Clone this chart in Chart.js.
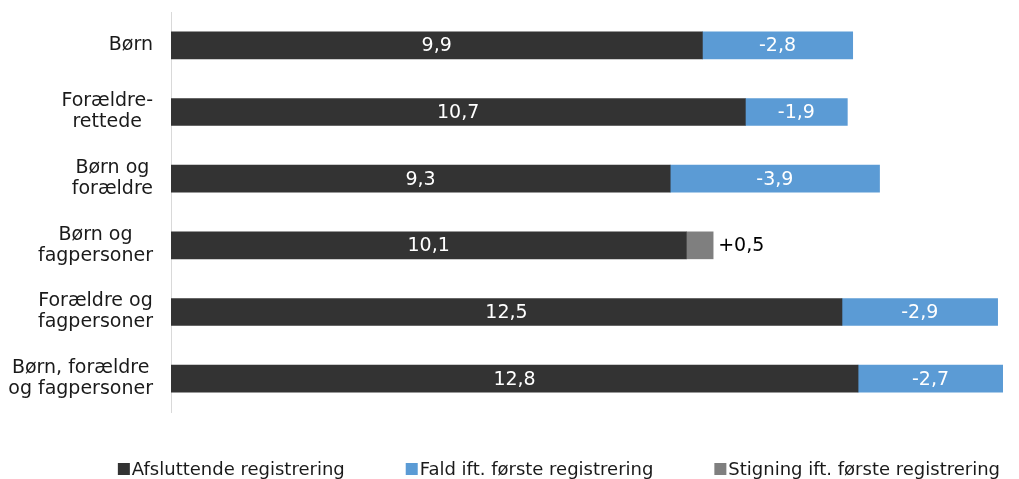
<!DOCTYPE html>
<html lang="da">
<head>
    <meta charset="UTF-8">
    <title>Registreringer</title>
    <script src="https://cdn.jsdelivr.net/npm/chart.js"></script>
    <style>
        body {
            margin: 0;
            padding: 0;
            background: #ffffff;
        }
        .chart-box {
            width: 1019px;
            height: 479px;
        }
    </style>
</head>
<body>
    <div class="chart-box">
        <canvas id="chart"></canvas>
    </div>

    <script>
        const groups = [
            ['Børn'],
            ['Forældre-', 'rettede'],
            ['Børn og', 'forældre'],
            ['Børn og', 'fagpersoner'],
            ['Forældre og', 'fagpersoner'],
            ['Børn, forældre', 'og fagpersoner']
        ];
        // final registration value and change since the first registration
        const finalValues = [9.9, 10.7, 9.3, 10.1, 12.5, 12.8];
        const changes = [-2.8, -1.9, -3.9, 0.5, -2.9, -2.7];

        const seriesNames = ['Afsluttende registrering', 'Fald ift. første registrering', 'Stigning ift. første registrering'];
        const colors = ['#333333', '#5b9bd5', '#7f7f7f'];

        // a rise is drawn on top of the first value, a fall on top of the final value
        const baseData = finalValues.map((v, i) => +(v - Math.max(changes[i], 0)).toFixed(1));
        const fallData = changes.map(c => c < 0 ? -c : null);
        const riseData = changes.map(c => c > 0 ? c : null);

        const FONT = '19px "DejaVu Sans"';
        const LEGEND_FONT = '18px "DejaVu Sans"';
        const TEXT = '#1a1a1a';

        function fmt(v) {
            return v.toFixed(1).replace('.', ',');
        }

        // values inside the bars, the rise value just right of its bar
        const barLabels = {
            id: 'barLabels',
            afterDatasetsDraw(chart) {
                const ctx = chart.ctx;
                ctx.save();
                ctx.font = FONT;
                ctx.textBaseline = 'middle';
                chart.data.datasets.forEach((ds, di) => {
                    const meta = chart.getDatasetMeta(di);
                    meta.data.forEach((bar, i) => {
                        if (ds.data[i] == null) return;
                        const mid = (bar.base + bar.x) / 2;
                        if (di === 0) {
                            ctx.fillStyle = '#ffffff';
                            ctx.textAlign = 'center';
                            ctx.fillText(fmt(finalValues[i]), mid, bar.y + 1);
                        } else if (di === 1) {
                            ctx.fillStyle = '#ffffff';
                            ctx.textAlign = 'center';
                            ctx.fillText(fmt(changes[i]), mid, bar.y + 1);
                        } else {
                            ctx.fillStyle = '#000000';
                            ctx.textAlign = 'left';
                            ctx.fillText('+' + fmt(changes[i]), bar.x + 5, bar.y + 1);
                        }
                    });
                });
                ctx.restore();
            }
        };

        // category names: each block right aligned, lines centred inside the block
        const categoryLabels = {
            id: 'categoryLabels',
            afterDraw(chart) {
                const ctx = chart.ctx;
                const y = chart.scales.y;
                const rightEdge = 153;
                const lineH = 21;
                ctx.save();
                ctx.font = FONT;
                ctx.fillStyle = TEXT;
                ctx.textAlign = 'center';
                ctx.textBaseline = 'middle';
                chart.data.labels.forEach((lines, i) => {
                    const cy = y.getPixelForTick(i);
                    const w = Math.max(...lines.map(l => ctx.measureText(l).width));
                    const cx = rightEdge - w / 2;
                    const top = cy - (lines.length - 1) * lineH / 2;
                    lines.forEach((l, k) => ctx.fillText(l, cx, top + k * lineH));
                });
                ctx.restore();
            }
        };

        // legend row along the bottom, ending near the right edge
        const bottomLegend = {
            id: 'bottomLegend',
            afterDraw(chart) {
                const ctx = chart.ctx;
                const box = 12;
                const gapText = 2;
                const gapItem = 61;
                const cy = 469;
                ctx.save();
                ctx.font = LEGEND_FONT;
                ctx.textBaseline = 'middle';
                ctx.textAlign = 'left';
                const items = chart.data.datasets.map(ds => ({
                    text: ds.label,
                    color: ds.backgroundColor,
                    w: ctx.measureText(ds.label).width
                }));
                const total = items.reduce((s, it) => s + box + gapText + it.w, 0) + gapItem * (items.length - 1);
                let x = 1000 - total;
                items.forEach(it => {
                    ctx.fillStyle = it.color;
                    ctx.fillRect(x, cy - 6, box, box);
                    ctx.fillStyle = TEXT;
                    ctx.fillText(it.text, x + box + gapText, cy + 1);
                    x += box + gapText + it.w + gapItem;
                });
                ctx.restore();
            }
        };

        const ctx = document.getElementById('chart').getContext('2d');
        new Chart(ctx, {
            type: 'bar',
            data: {
                labels: groups,
                datasets: [
                    { label: seriesNames[0], data: baseData, backgroundColor: colors[0] },
                    { label: seriesNames[1], data: fallData, backgroundColor: colors[1] },
                    { label: seriesNames[2], data: riseData, backgroundColor: colors[2] }
                ]
            },
            options: {
                indexAxis: 'y',
                responsive: true,
                maintainAspectRatio: false,
                animation: false,
                barThickness: 27,
                layout: {
                    padding: { top: 12, right: 16, bottom: 67, left: 0 }
                },
                scales: {
                    x: {
                        display: false,
                        stacked: true,
                        min: 0,
                        max: 15.5
                    },
                    y: {
                        stacked: true,
                        grid: { display: false },
                        border: { display: true, color: '#d9d9d9', width: 1 },
                        ticks: { display: false },
                        afterFit(scale) {
                            scale.width = 171;
                        }
                    }
                },
                plugins: {
                    tooltip: { enabled: false },
                    legend: { display: false }
                }
            },
            plugins: [barLabels, categoryLabels, bottomLegend]
        });
    </script>
</body>
</html>
